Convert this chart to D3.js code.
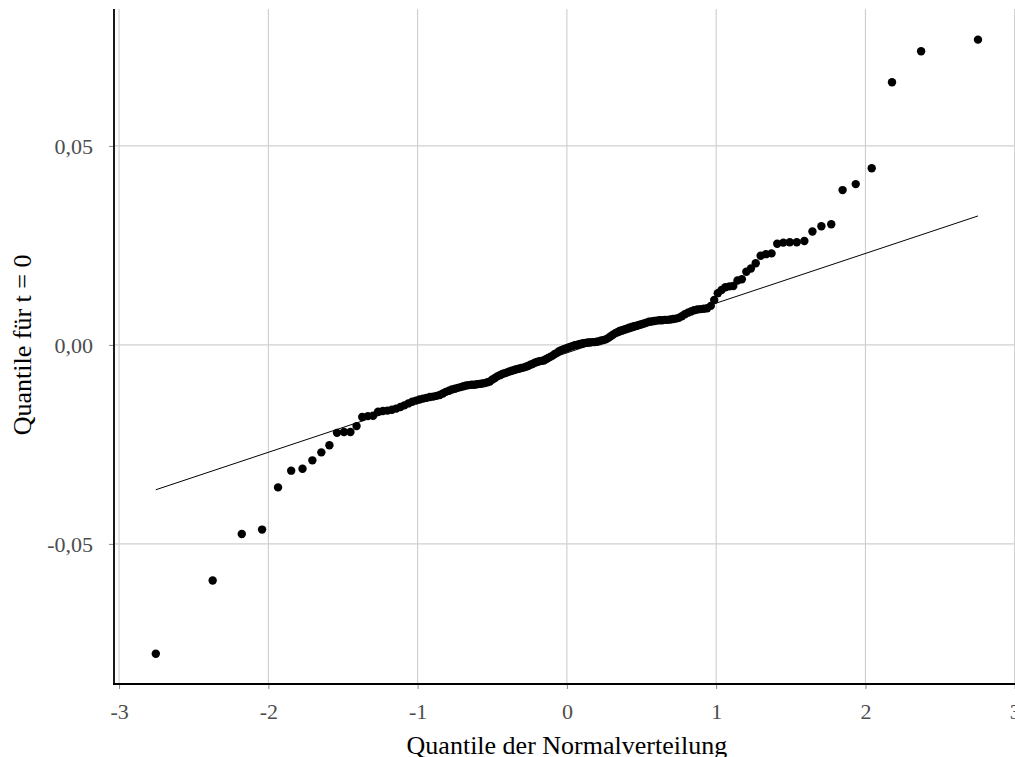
<!DOCTYPE html>
<html>
<head>
<meta charset="utf-8">
<script src="https://cdn.jsdelivr.net/npm/d3@7"></script>
<style>
  html, body { margin: 0; padding: 0; background: #fff; }
  svg { display: block; }
  text { font-family: "Liberation Serif", "Times New Roman", serif; }
</style>
</head>
<body>
<svg id="chart" width="1015" height="757"></svg>
<script>
// Theoretical normal quantiles (x) and sorted sample quantiles (y)
const theoreticalQuantiles = [
  -2.754, -2.373, -2.178, -2.042, -1.935, -1.847, -1.771, -1.705, -1.645, -1.591,
  -1.540, -1.493, -1.450, -1.409, -1.371, -1.333, -1.298, -1.265, -1.233, -1.202,
  -1.172, -1.143, -1.115, -1.089, -1.062, -1.036, -1.011, -0.987, -0.964, -0.940,
  -0.918, -0.896, -0.874, -0.852, -0.831, -0.811, -0.790, -0.770, -0.750, -0.731,
  -0.712, -0.693, -0.674, -0.656, -0.638, -0.620, -0.602, -0.585, -0.567, -0.550,
  -0.533, -0.516, -0.499, -0.482, -0.466, -0.449, -0.433, -0.417, -0.401, -0.385,
  -0.369, -0.353, -0.338, -0.322, -0.306, -0.291, -0.276, -0.260, -0.245, -0.230,
  -0.215, -0.200, -0.185, -0.170, -0.155, -0.141, -0.126, -0.111, -0.096, -0.081,
  -0.066, -0.052, -0.037, -0.022, -0.007,
  0.007, 0.022, 0.037, 0.052, 0.066,
  0.081, 0.096, 0.111, 0.126, 0.141, 0.155, 0.170, 0.185, 0.200, 0.215,
  0.230, 0.245, 0.260, 0.276, 0.291, 0.306, 0.322, 0.338, 0.353, 0.369,
  0.385, 0.401, 0.417, 0.433, 0.449, 0.466, 0.482, 0.499, 0.516, 0.533,
  0.550, 0.567, 0.585, 0.602, 0.620, 0.638, 0.656, 0.674, 0.693, 0.712,
  0.731, 0.750, 0.770, 0.790, 0.811, 0.831, 0.852, 0.874, 0.896, 0.918,
  0.940, 0.964, 0.987, 1.011, 1.036, 1.062, 1.089, 1.115, 1.143, 1.172,
  1.202, 1.233, 1.265, 1.298, 1.333, 1.371, 1.409, 1.450, 1.493, 1.540,
  1.591, 1.645, 1.705, 1.771, 1.847, 1.935, 2.042, 2.178, 2.373, 2.754
];

const sampleQuantiles = [
  -0.0776, -0.0592, -0.0475, -0.0464, -0.0358, -0.0316, -0.0311, -0.0290, -0.0270, -0.0252,
  -0.0221, -0.0219, -0.0219, -0.0204, -0.0181, -0.0179, -0.0178, -0.0168,
  -0.0166, -0.0165, -0.0163, -0.0160, -0.0156, -0.0152, -0.0147, -0.0143, -0.0140, -0.0137,
  -0.0135, -0.0133, -0.0131, -0.0130, -0.0128, -0.0126, -0.0122, -0.0118, -0.0115, -0.0112, -0.0110, -0.0108,
  -0.0106, -0.0104, -0.0102, -0.0101, -0.0100, -0.0100, -0.0099, -0.0098, -0.0097, -0.0096, -0.0094, -0.0092,
  -0.0087, -0.0083, -0.0079, -0.0076, -0.0073, -0.0071, -0.0069, -0.0067, -0.0065, -0.0063, -0.0061, -0.0060,
  -0.0058, -0.0057, -0.0055, -0.0053, -0.0050, -0.0048, -0.0045, -0.0043, -0.0041, -0.0040, -0.0039, -0.0036,
  -0.0033, -0.0030, -0.0027, -0.0023, -0.0020, -0.0016, -0.0013, -0.0011, -0.0009,
  -0.0007, -0.0005, -0.0003, -0.0001, 0.0000, 0.0002, 0.0003, 0.0004, 0.0005, 0.0006, 0.0006, 0.0007,
  0.0007, 0.0008, 0.0009, 0.0011, 0.0012, 0.0014, 0.0017, 0.0021, 0.0025, 0.0029, 0.0032, 0.0035,
  0.0037, 0.0039, 0.0041, 0.0043, 0.0045, 0.0047, 0.0048, 0.0050, 0.0052, 0.0054, 0.0056, 0.0058,
  0.0059, 0.0060, 0.0061, 0.0062, 0.0062, 0.0063, 0.0063, 0.0064, 0.0065, 0.0066, 0.0068, 0.0072,
  0.0077, 0.0081, 0.0084, 0.0087, 0.0089, 0.0090, 0.0091, 0.0092, 0.0098, 0.0113, 0.0130, 0.0138,
  0.0145, 0.0147, 0.0148, 0.0162, 0.0165, 0.0184, 0.0192, 0.0205, 0.0224, 0.0228, 0.0230, 0.0254,
  0.0257, 0.0258, 0.0258, 0.0261, 0.0285, 0.0298, 0.0303, 0.0389, 0.0404, 0.0444, 0.0660, 0.0738, 0.0767
];

// Reference line end points (qq line)
const qqLineX = [-2.754, 2.754];
const qqLineY = [-0.0364, 0.0324];

const xTicks = [-3, -2, -1, 0, 1, 2, 3];
const yTicks = [-0.05, 0, 0.05];

const xTitle = "Quantile der Normalverteilung";
const yTitle = "Quantile für t = 0";

// Layout
const svg = d3.select("#chart");
const plotLeft = 114, plotRight = 1015, plotTop = 9, plotBottom = 684;

const x = d3.scaleLinear().domain([-3.034, 3.002]).range([plotLeft, plotRight]);
const y = d3.scaleLinear().domain([-0.0852, 0.0844]).range([plotBottom, plotTop]);

const de = d3.formatLocale({ decimal: ",", thousands: ".", grouping: [3], currency: ["", " €"], minus: "-" });
const fmtY = de.format(".2f");
const fmtX = de.format("d");

// Grid
svg.append("g")
  .selectAll("line")
  .data(xTicks)
  .join("line")
  .attr("x1", d => x(d)).attr("x2", d => x(d))
  .attr("y1", plotTop).attr("y2", plotBottom)
  .attr("stroke", "#c8c8c8").attr("stroke-width", 1);

svg.append("g")
  .selectAll("line")
  .data(yTicks)
  .join("line")
  .attr("x1", plotLeft).attr("x2", plotRight)
  .attr("y1", d => y(d)).attr("y2", d => y(d))
  .attr("stroke", "#d0d0d0").attr("stroke-width", 1.2);

// Axes
const xAxis = svg.append("g")
  .attr("transform", `translate(0,${plotBottom})`)
  .call(d3.axisBottom(x).tickValues(xTicks).tickFormat(fmtX).tickSize(5).tickPadding(14));
xAxis.select(".domain").remove();
xAxis.selectAll(".tick line").attr("stroke", "#888");
xAxis.selectAll(".tick text")
  .attr("fill", "#4d4d4d")
  .style("font-size", "22px")
  .style("font-family", "'Liberation Serif', serif");

const yAxis = svg.append("g")
  .attr("transform", `translate(${plotLeft},0)`)
  .call(d3.axisLeft(y).tickValues(yTicks).tickFormat(fmtY).tickSize(5).tickPadding(16));
yAxis.select(".domain").remove();
yAxis.selectAll(".tick line").attr("stroke", "#888");
yAxis.selectAll(".tick text")
  .attr("fill", "#4d4d4d")
  .attr("dy", "0.34em")
  .style("font-size", "22px")
  .style("font-family", "'Liberation Serif', serif");

// Axis lines
svg.append("line")
  .attr("x1", plotLeft).attr("x2", plotLeft)
  .attr("y1", plotTop).attr("y2", plotBottom + 1)
  .attr("stroke", "#000").attr("stroke-width", 1.8);
svg.append("line")
  .attr("x1", plotLeft - 1).attr("x2", plotRight)
  .attr("y1", plotBottom).attr("y2", plotBottom)
  .attr("stroke", "#000").attr("stroke-width", 1.8);

// QQ line
svg.append("line")
  .attr("x1", x(qqLineX[0])).attr("y1", y(qqLineY[0]))
  .attr("x2", x(qqLineX[1])).attr("y2", y(qqLineY[1]))
  .attr("stroke", "#000").attr("stroke-width", 1);

// Points
svg.append("g")
  .selectAll("circle")
  .data(d3.zip(theoreticalQuantiles, sampleQuantiles))
  .join("circle")
  .attr("cx", d => x(d[0]))
  .attr("cy", d => y(d[1]))
  .attr("r", 4.2)
  .attr("fill", "#000");

// Titles
svg.append("text")
  .attr("x", x(0)).attr("y", 754)
  .attr("text-anchor", "middle")
  .attr("fill", "#000")
  .style("font-size", "26px")
  .text(xTitle);

svg.append("text")
  .attr("transform", `translate(31,${y(0)}) rotate(-90)`)
  .attr("text-anchor", "middle")
  .attr("fill", "#000")
  .style("font-size", "26px")
  .text(yTitle);
</script>
</body>
</html>
